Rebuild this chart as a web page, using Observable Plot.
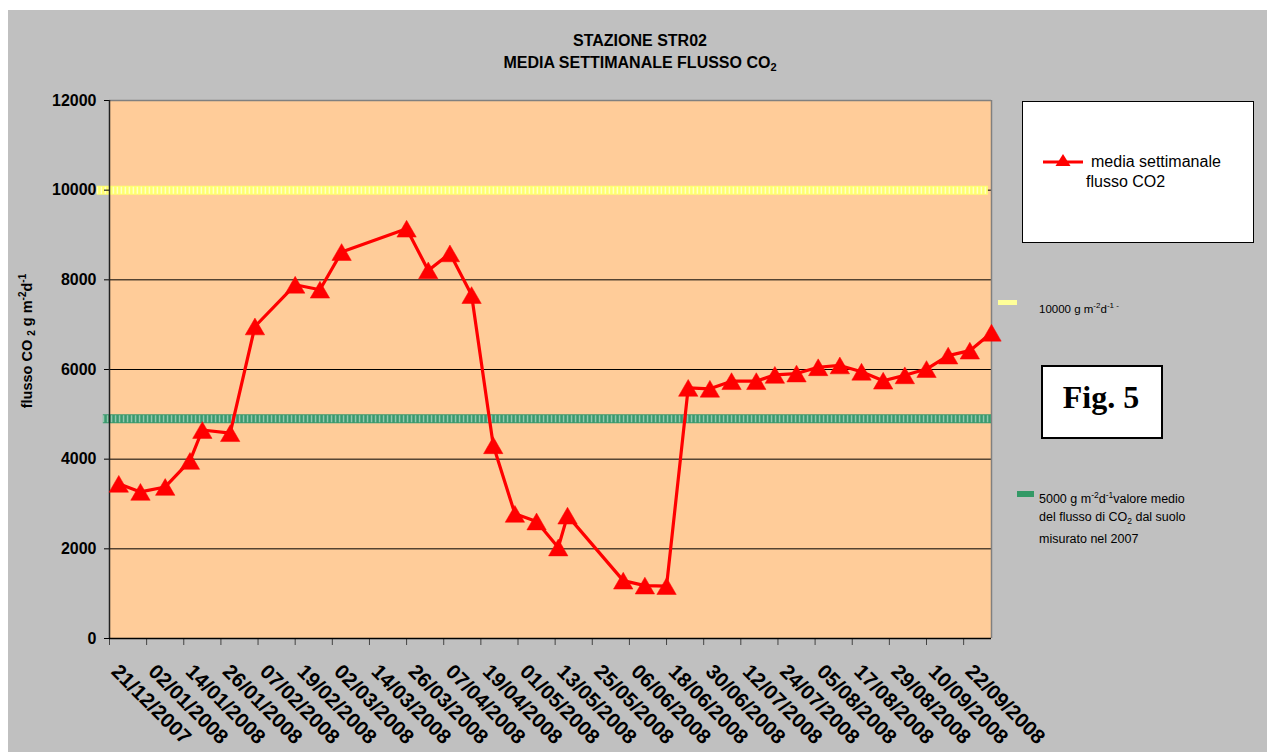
<!DOCTYPE html>
<html>
<head>
<meta charset="utf-8">
<script src="https://cdn.jsdelivr.net/npm/d3@7"></script>
<script src="https://cdn.jsdelivr.net/npm/@observablehq/plot@0.6"></script>
<style>
  html, body { margin: 0; padding: 0; background: #ffffff; }
  #wrap { position: relative; width: 1267px; height: 752px; overflow: hidden; background: #ffffff; }
  #bg { position: absolute; left: 8px; top: 10px; width: 1259px; height: 742px; background: #c0c0c0; z-index: 0; }
  #chart { position: absolute; left: 0; top: 0; width: 1267px; height: 752px; z-index: 1; }
  #over { position: absolute; left: 0; top: 0; z-index: 2; }
  #err { position: absolute; left: 200px; top: 300px; color: blue; font: 12px monospace; z-index: 3; white-space: pre; }
</style>
</head>
<body>
<div id="wrap">
  <div id="bg"></div>
  <div id="chart"></div>
  <svg id="over" width="1267" height="752" font-family="Liberation Sans, Arial, sans-serif">
    <text x="640" y="46" text-anchor="middle" font-size="16" font-weight="bold" fill="#000">STAZIONE STR02</text>
    <text x="640" y="68" text-anchor="middle" font-size="16" font-weight="bold" fill="#000">MEDIA SETTIMANALE FLUSSO CO<tspan font-size="11" dy="3">2</tspan></text>
    <text transform="translate(32,341) rotate(-90)" text-anchor="middle" font-size="14.5" font-weight="bold" fill="#000">flusso CO <tspan font-size="10" dy="3">2</tspan><tspan dy="-3"> g m</tspan><tspan font-size="10" dy="-6">-2</tspan><tspan dy="6">d</tspan><tspan font-size="10" dy="-6">-1</tspan></text>
    <rect x="1022.5" y="101.5" width="231" height="141" fill="#ffffff" stroke="#000" stroke-width="1"></rect>
    <line x1="1043" y1="162" x2="1083" y2="162" stroke="#ff0000" stroke-width="3"></line>
    <path d="M1063,154 L1070.5,166 L1055.5,166 Z" fill="#ff0000"></path>
    <text x="1091" y="167" font-size="16" fill="#000">media settimanale</text>
    <text x="1086" y="187" font-size="16" fill="#000">flusso CO2</text>
    <rect x="998" y="300" width="19" height="5" fill="#ffff99"></rect>
    <text x="1039" y="313" font-size="11.5" fill="#000">10000 g m<tspan font-size="8" dy="-5">-2</tspan><tspan dy="5">d</tspan><tspan font-size="8" dy="-5">-1 -</tspan></text>
    <rect x="1042" y="366" width="120" height="72" fill="#ffffff" stroke="#000" stroke-width="2"></rect>
    <text x="1101" y="408" text-anchor="middle" font-family="Liberation Serif, Times New Roman, serif" font-size="32" font-weight="bold" fill="#000">Fig. 5</text>
    <rect x="1017" y="491" width="17" height="6" fill="#339966"></rect>
    <text x="1039" y="503" font-size="12.5" fill="#000">5000 g m<tspan font-size="8.5" dy="-5">-2</tspan><tspan dy="5">d</tspan><tspan font-size="8.5" dy="-5">-1</tspan><tspan dy="5">valore medio</tspan></text>
    <text x="1039" y="521" font-size="12.5" fill="#000">del flusso di CO<tspan font-size="8.5" dy="3">2</tspan><tspan dy="-3"> dal suolo</tspan></text>
    <text x="1039" y="543" font-size="12.5" fill="#000">misurato nel 2007</text>
  </svg>
  <div id="err"></div>
</div>
<script>
window.onerror = function (msg, src, line) { document.getElementById("err").textContent += "ERR " + msg + " @" + line + "\n"; };
// ---- data ----
const dates = ["2007-12-24","2007-12-31","2008-01-08","2008-01-16","2008-01-20","2008-01-29","2008-02-06","2008-02-19","2008-02-27","2008-03-05","2008-03-26","2008-04-02","2008-04-09","2008-04-16","2008-04-23","2008-04-30","2008-05-07","2008-05-14","2008-05-17","2008-06-04","2008-06-11","2008-06-18","2008-06-25","2008-07-02","2008-07-09","2008-07-17","2008-07-23","2008-07-30","2008-08-06","2008-08-13","2008-08-20","2008-08-27","2008-09-03","2008-09-10","2008-09-17","2008-09-24","2008-10-01"];
const values = [3450,3270,3380,3960,4650,4580,6960,7890,7780,8620,9140,8210,8590,7660,4310,2780,2610,2030,2740,1290,1180,1170,5590,5570,5740,5740,5880,5910,6050,6090,5950,5750,5870,6010,6310,6420,6820];
const xTickLabels = ["21/12/2007","02/01/2008","14/01/2008","26/01/2008","07/02/2008","19/02/2008","02/03/2008","14/03/2008","26/03/2008","07/04/2008","19/04/2008","01/05/2008","13/05/2008","25/05/2008","06/06/2008","18/06/2008","30/06/2008","12/07/2008","24/07/2008","05/08/2008","17/08/2008","29/08/2008","10/09/2008","22/09/2008"];
const yTicks = [0,2000,4000,6000,8000,10000,12000];
const gridValues = [2000,4000,6000,8000,10000];
const refHigh = 10000;   // yellow reference
const refMean = 4900;    // green reference (drawn level)
const xStart = "2007-12-21";
const xEnd = "2008-10-01";

const errBox = document.getElementById("err");
try {
  const parseDMY = s => { const [d,m,y] = s.split("/"); return new Date(Date.UTC(+y, +m - 1, +d)); };
  const data = dates.map((d, i) => ({date: new Date(d), value: values[i]}));
  const ticks = xTickLabels.map(s => ({date: parseDMY(s), label: s}));
  const x0 = new Date(xStart), x1 = new Date(xEnd);
  const dayMs = 86400000;
  const hi = [{y: refHigh, a: new Date(+x0 - 4 * dayMs), b: new Date(+x1 - dayMs)}];
  const mean = [{y: refMean, a: new Date(+x0 - 2 * dayMs), b: x1}];

  const chart = Plot.plot({
    width: 1267,
    height: 752,
    marginLeft: 109,
    marginRight: 276,
    marginTop: 100,
    marginBottom: 114,
    style: {background: "transparent", fontFamily: "Liberation Sans, Arial, sans-serif", fontWeight: "bold", overflow: "visible", color: "#000"},
    x: {type: "utc", domain: [x0, x1]},
    y: {domain: [0, 12000]},
    marks: [
      Plot.frame({fill: "#ffcc99", stroke: "none"}),
      Plot.ruleY(gridValues, {stroke: "#000", strokeWidth: 1}),
      Plot.ruleY([12000], {stroke: "#808080", strokeWidth: 1.5}),
      Plot.ruleX([x1], {stroke: "#808080", strokeWidth: 1.5}),
      Plot.ruleY(hi, {y: "y", x1: "a", x2: "b", stroke: "#ffff70", strokeWidth: 9}),
      Plot.ruleY(hi, {y: "y", x1: "a", x2: "b", stroke: "#ffffff", strokeWidth: 7, strokeDasharray: "1.5,2.5", strokeOpacity: 0.6}),
      Plot.ruleY(mean, {y: "y", x1: "a", x2: "b", stroke: "#3a9a6e", strokeWidth: 9}),
      Plot.ruleY(mean, {y: "y", x1: "a", x2: "b", stroke: "#ffffff", strokeWidth: 7, strokeDasharray: "1.5,2.5", strokeOpacity: 0.45}),
      Plot.axisY(yTicks, {tickSize: 5, tickPadding: 8, fontSize: 16, tickFormat: d => String(d), label: null, stroke: "#000"}),
      Plot.axisX(ticks.map(t => t.date), {tickSize: 7, tickFormat: () => "", label: null, stroke: "#444"}),
      Plot.text(ticks, {x: "date", frameAnchor: "bottom", text: "label", rotate: 45, textAnchor: "start", lineAnchor: "top", dx: 11, dy: 24, fontSize: 20.5, fill: "#000"}),
      Plot.ruleX([x0], {stroke: "#222", strokeWidth: 1.5}),
      Plot.ruleY([0], {stroke: "#000", strokeWidth: 1.5}),
      Plot.line(data, {x: "date", y: "value", stroke: "#ff0000", strokeWidth: 3.2}),
      Plot.dot(data, {x: "date", y: "value", symbol: "triangle", r: 7.2, fill: "#ff0000", stroke: "#ff0000", strokeWidth: 0.5, dy: 2.8})
    ]
  });
  document.getElementById("chart").appendChild(chart);
} catch (e) {
  errBox.textContent += String(e && e.stack || e);
}
</script>
</body>
</html>
